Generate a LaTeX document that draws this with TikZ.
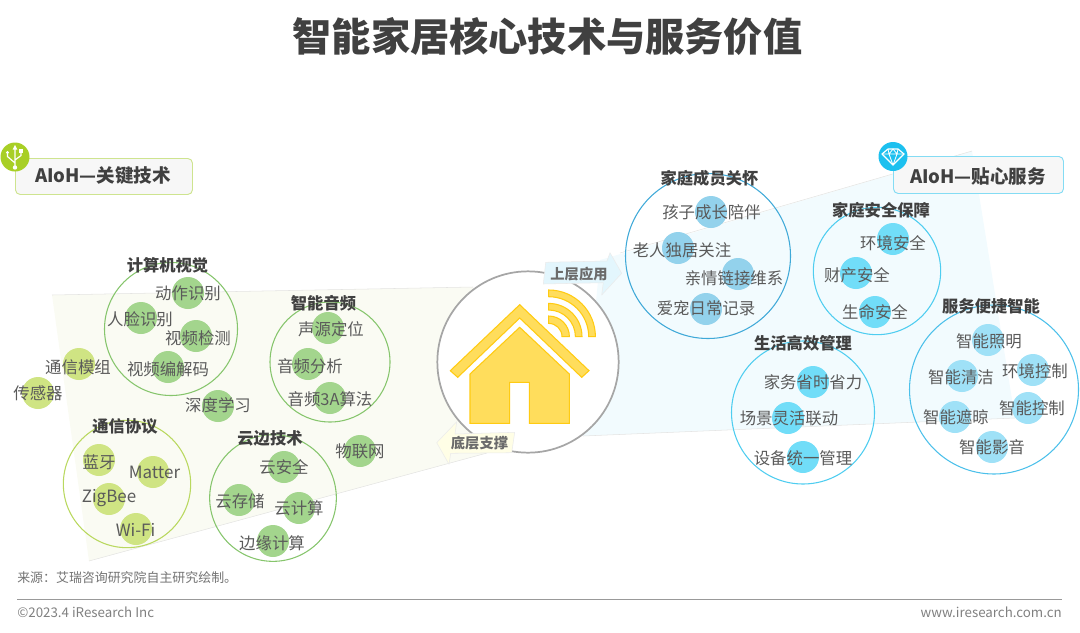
\documentclass[tikz,border=0pt]{standalone}
\usepackage{fontspec}
\setmainfont{Noto Sans CJK SC}
\definecolor{txtgray}{HTML}{5A5A5A}
\definecolor{headgray}{HTML}{404040}
\definecolor{leftzone}{HTML}{FAFBF3}
\definecolor{rightzone}{HTML}{F2FBFE}
\definecolor{zoneline}{HTML}{E4E4E2}
\definecolor{greenring}{HTML}{86C56C}
\definecolor{greendot}{HTML}{A3D58D}
\definecolor{limering}{HTML}{B9D85F}
\definecolor{limedot}{HTML}{CFE483}
\definecolor{limeicon}{HTML}{A8CF26}
\definecolor{bluering}{HTML}{3FA9D8}
\definecolor{bluedot}{HTML}{93D2EC}
\definecolor{cyanring}{HTML}{4FCDF0}
\definecolor{cyandot}{HTML}{71DDF8}
\definecolor{cyanicon}{HTML}{1CC0EF}
\definecolor{skyring}{HTML}{4CC0EA}
\definecolor{skydot}{HTML}{9FE1F7}
\definecolor{housefill}{HTML}{FFDD5C}
\definecolor{houseline}{HTML}{FFCB12}
\usetikzlibrary{positioning}

\tikzset{
  label/.style={font=\fontsize{12.3}{12}\selectfont, text=txtgray, inner sep=0pt},
  latinlabel/.style={font=\fontsize{12.7}{13}\selectfont, text=txtgray, inner sep=0pt},
  grouphead/.style={font=\fontsize{12.2}{12}\selectfont\bfseries, text=headgray, inner sep=0pt},
  ring/.style={draw, circle, inner sep=0pt, line width=0.8pt},
  techdot/.style={circle, inner sep=0pt, minimum size=24pt},
  housepart/.style={fill=housefill, draw=houseline, line width=0.8pt, line join=miter},
  badge/.style={draw, rounded corners=3.5pt, fill=black!3, line width=0.7pt, inner sep=0pt, anchor=north west},
  badgetext/.style={font=\fontsize{13.9}{14}\selectfont\bfseries, text=headgray, inner sep=0pt},
  arrowtext/.style={font=\fontsize{10.7}{11}\selectfont\bfseries, text=black!58, inner sep=0pt},
  foottext/.style={font=\fontsize{10}{11}\selectfont, text=black!50, inner sep=0pt}
}

\begin{document}
\begin{tikzpicture}[x=0.75pt, y=-0.75pt]
      \useasboundingbox (0,0) rectangle (1080,632);

      % zones
      \draw [fill=leftzone, draw=none] (52,295) -- (473,287) -- (487,453) -- (89,561) -- cycle;
      \draw [zoneline] (52,295) -- (473,287);
      \draw [zoneline] (89,561) -- (487,453);
      \draw [fill=rightzone, draw=none] (972,151) -- (1015,418) -- (583,436) -- (600,260) -- cycle;
      \draw [zoneline] (620,253) -- (972,151);
      \draw [zoneline] (583,436) -- (1015,418);

      % title and badges
      \node (title) [font=\fontsize{29.4}{30}\selectfont\bfseries, text=headgray, inner sep=0pt] at (547.5,37) {智能家居核心技术与服务价值};
      \node (techbadge) [badge, draw=limering!70, minimum width=132.75pt, minimum height=27pt] at (15,158) {};
      \node (techtext) [badgetext] at (103,176) {AIoH—关键技术};
      \node (servbadge) [badge, draw=cyanring!70, minimum width=127.5pt, minimum height=27.75pt] at (893,156) {};
      \node (servtext) [badgetext] at (978,176) {AIoH—贴心服务};
      \node (techicon) [techdot, fill=limeicon, minimum size=21.75pt] at (15,157) {};
      \node (servicon) [techdot, fill=cyanicon, minimum size=21.75pt] at (893,156.5) {};

      % usb mark
      \draw [white, line width=0.9pt] (15,149) -- (15,167) (15,163) -- (7.5,156.5) -- (7.5,152.5) (15,160) -- (21,155.5) -- (21,151);
      \fill [white] (15,145) -- (12.7,149.5) -- (17.3,149.5) -- cycle;
      \fill [white] (15,167.5) circle (2.2);
      \fill [white] (7.5,152.5) circle (1.7);
      \fill [white] (19.3,149.2) rectangle (22.7,152.6);

      % gem mark
      \draw [white, line width=0.9pt, line join=round] (888,149) -- (898,149) -- (904,154) -- (893,165) -- (882,154) -- cycle;
      \draw [white, line width=0.6pt] (882,154) -- (904,154) (888,149) -- (889,154) -- (893,165) -- (897,154) -- (898,149) (889,154) -- (893,149) -- (897,154);

      % centre
      \node (hub) [ring, draw=black!35, fill=white, line width=1.3pt, minimum size=136pt] at (528,362) {};
      \draw [housepart] (519.7,304.7) -- (589,370.7) -- (581.7,377.3) -- (519.7,318) -- (457.7,377.3) -- (450.3,370.7) -- cycle;
      \draw [housepart] (519.7,327.3) -- (569.3,374) -- (569.3,423.3) -- (529.3,423.3) -- (529.3,382.3) -- (509.7,382.3) -- (509.7,423.3) -- (470,423.3) -- (470,374) -- cycle;
      \draw [housepart] (548.7,290) arc[start angle=-90, end angle=0, radius=46.7] -- ++(-6.7,0) arc[start angle=0, end angle=-90, radius=40] -- cycle;
      \draw [housepart] (548.7,303.4) arc[start angle=-90, end angle=0, radius=33.3] -- ++(-6.6,0) arc[start angle=0, end angle=-90, radius=26.7] -- cycle;
      \draw [housepart] (548.7,316) arc[start angle=-90, end angle=0, radius=20.7] -- ++(-7.4,0) arc[start angle=0, end angle=-90, radius=13.3] -- cycle;

      % block arrows
      \draw [fill=cyan!11, draw=black!8, line join=round] (545.7,262.3) -- (607,261) -- (610,252.7) -- (621.7,273.3) -- (601.7,295) -- (603.3,282.7) -- (543.3,284) -- cycle;
      \node (upper) [arrowtext] at (579,274.5) {上层应用};
      \draw [fill=yellow!10, draw=black!8, line join=round] (455,434) -- (456.7,421.7) -- (436.7,442.7) -- (449,464.3) -- (450.7,453.3) -- (511.7,452.7) -- (514.7,432.3) -- cycle;
      \node (lower) [arrowtext] at (479.5,443.5) {底层支撑};

      % rings
      \node (cvring) [ring, draw=greenring, minimum size=99.75pt] at (171,329) {};
      \node (audioring) [ring, draw=greenring, minimum size=90pt] at (330,362) {};
      \node (protoring) [ring, draw=limering, minimum size=95.5pt] at (127,484) {};
      \node (cloudring) [ring, draw=greenring, minimum size=95pt] at (273,498) {};
      \node (carering) [ring, draw=bluering, minimum size=123.75pt] at (708,256) {};
      \node (safering) [ring, draw=cyanring, minimum size=95.5pt] at (877,271) {};
      \node (lifering) [ring, draw=cyanring, minimum size=107.25pt] at (803,412.5) {};
      \node (easering) [ring, draw=skyring, minimum size=126.75pt] at (994,389.5) {};

      % dots
      \node (cvdota) [techdot, fill=greendot] at (188,293) {};
      \node (cvdotb) [techdot, fill=greendot] at (141,318) {};
      \node (cvdotc) [techdot, fill=greendot] at (196,336) {};
      \node (cvdotd) [techdot, fill=greendot] at (168,367) {};
      \node (audotb) [techdot, fill=greendot] at (308,364) {};
      \node (audota) [techdot, fill=greendot] at (328,328) {};
      \node (audotc) [techdot, fill=greendot] at (330,398) {};
      \node (deepdot) [techdot, fill=greendot] at (218,406) {};
      \node (moddot) [techdot, fill=limedot] at (79,364) {};
      \node (sensdot) [techdot, fill=limedot] at (38,393) {};
      \node (iotdot) [techdot, fill=greendot] at (360,451) {};
      \node (prdota) [techdot, fill=limedot] at (99,460) {};
      \node (prdotb) [techdot, fill=limedot] at (153,472) {};
      \node (prdotc) [techdot, fill=limedot] at (109,499) {};
      \node (prdotd) [techdot, fill=limedot] at (136,529) {};
      \node (cldota) [techdot, fill=greendot] at (284,467) {};
      \node (cldotb) [techdot, fill=greendot] at (239,500) {};
      \node (cldotc) [techdot, fill=greendot] at (299,508) {};
      \node (cldotd) [techdot, fill=greendot] at (273,541) {};
      \node (cadota) [techdot, fill=bluedot] at (711,212) {};
      \node (cadotb) [techdot, fill=bluedot] at (678,248) {};
      \node (cadotc) [techdot, fill=bluedot] at (738,274) {};
      \node (cadotd) [techdot, fill=bluedot] at (706,309) {};
      \node (sadota) [techdot, fill=cyandot] at (893,239) {};
      \node (sadotb) [techdot, fill=cyandot] at (856,273) {};
      \node (sadotc) [techdot, fill=cyandot] at (875,312) {};
      \node (lidota) [techdot, fill=cyandot] at (813,382) {};
      \node (lidotb) [techdot, fill=cyandot] at (788,418) {};
      \node (lidotc) [techdot, fill=cyandot] at (803,457) {};
      \node (eadota) [techdot, fill=skydot] at (988,340) {};
      \node (eadotb) [techdot, fill=skydot] at (962,376) {};
      \node (eadotc) [techdot, fill=skydot] at (1033,370) {};
      \node (eadotd) [techdot, fill=skydot] at (955,417) {};
      \node (eadote) [techdot, fill=skydot] at (1028,408) {};
      \node (eadotf) [techdot, fill=skydot] at (992,447) {};

      % labels
      \node (cvhead) [grouphead] at (167.5,265) {计算机视觉};
      \node (cvtxta) [label] at (188,293) {动作识别};
      \node (cvtxtb) [label] at (140,319) {人脸识别};
      \node (cvtxtc) [label] at (198,338) {视频检测};
      \node (cvtxtd) [label] at (168,369) {视频编解码};
      \node (auhead) [grouphead] at (323.5,303) {智能音频};
      \node (autxta) [label] at (331,329) {声源定位};
      \node (autxtb) [label] at (310,366) {音频分析};
      \node (autxtc) [label] at (330,399) {音频3A算法};
      \node (deeptxt) [label] at (218,405) {深度学习};
      \node (modtxt) [label] at (78,367) {通信模组};
      \node (senstxt) [label] at (38,393) {传感器};
      \node (iottxt) [label] at (360,451) {物联网};
      \node (prhead) [grouphead] at (125,426) {通信协议};
      \node (prtxta) [label] at (99,462) {蓝牙};
      \node (prtxtb) [latinlabel] at (154.5,472) {Matter};
      \node (prtxtc) [latinlabel] at (109,498) {ZigBee};
      \node (prtxtd) [latinlabel] at (135.5,530) {Wi-Fi};
      \node (clhead) [grouphead] at (270,438) {云边技术};
      \node (cltxta) [label] at (284,467) {云安全};
      \node (cltxtb) [label] at (240,501) {云存储};
      \node (cltxtc) [label] at (299,508) {云计算};
      \node (cltxtd) [label] at (272,543) {边缘计算};
      \node (cahead) [grouphead] at (709.5,178) {家庭成员关怀};
      \node (catxta) [label] at (711.5,212) {孩子成长陪伴};
      \node (catxtb) [label] at (682,250) {老人独居关注};
      \node (catxtc) [label] at (734,278) {亲情链接维系};
      \node (catxtd) [label] at (706,308) {爱宠日常记录};
      \node (sahead) [grouphead] at (881,210) {家庭安全保障};
      \node (satxta) [label] at (893,243) {环境安全};
      \node (satxtb) [label] at (857,275) {财产安全};
      \node (satxtc) [label] at (875,312) {生命安全};
      \node (lihead) [grouphead] at (803,343) {生活高效管理};
      \node (litxta) [label] at (813,382) {家务省时省力};
      \node (litxtb) [label] at (789,418) {场景灵活联动};
      \node (litxtc) [label] at (803,458) {设备统一管理};
      \node (eahead) [grouphead] at (991,306) {服务便捷智能};
      \node (eatxta) [label] at (989,341) {智能照明};
      \node (eatxtb) [label] at (961,377) {智能清洁};
      \node (eatxtc) [label] at (1035,371) {环境控制};
      \node (eatxtd) [label] at (956,417) {智能遮晾};
      \node (eatxte) [label] at (1032,408) {智能控制};
      \node (eatxtf) [label] at (992,447) {智能影音};

      % footer
      \node (source) [font=\fontsize{9.7}{10}\selectfont, text=black!55, inner sep=0pt, anchor=west] at (17,578) {来源：艾瑞咨询研究院自主研究绘制。};
      \node (copyr) [foottext, anchor=west] at (17,612) {©2023.4 iResearch Inc};
      \node (site) [foottext, anchor=east] at (1062,612) {www.iresearch.com.cn};
      \draw [black!40, line width=0.7pt] (17,599) -- (1062,599);
    \end{tikzpicture}
\end{document}
